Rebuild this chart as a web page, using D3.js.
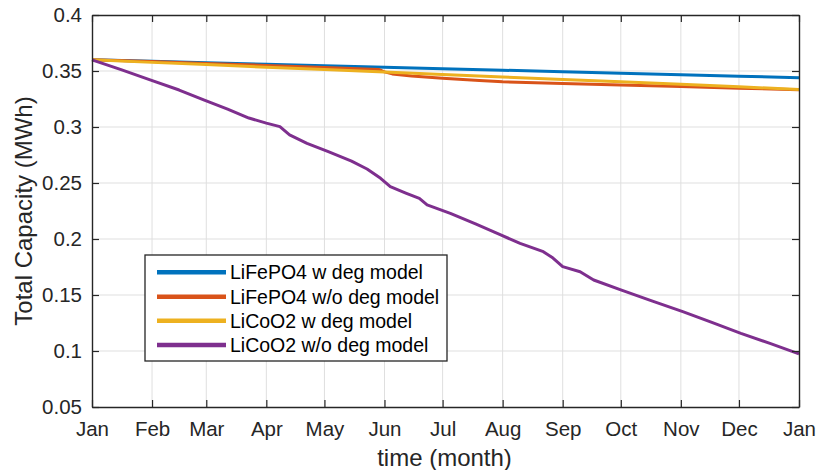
<!DOCTYPE html>
<html>
<head>
<meta charset="utf-8">
<script src="https://cdn.jsdelivr.net/npm/d3@7/dist/d3.min.js"></script>
<style>
  html, body { margin: 0; padding: 0; background: #fff; }
  svg { display: block; font-family: "Liberation Sans", Arial, Helvetica, sans-serif; }
</style>
</head>
<body>
<svg id="chart" width="819" height="470"></svg>
<script>
// Month ticks (day of year at the start of each month)
const monthDays = [0, 31, 59, 90, 120, 151, 181, 212, 243, 273, 304, 334, 365];
const monthLabels = ["Jan", "Feb", "Mar", "Apr", "May", "Jun", "Jul", "Aug", "Sep", "Oct", "Nov", "Dec", "Jan"];
const yTicks = [0.05, 0.1, 0.15, 0.2, 0.25, 0.3, 0.35, 0.4];

// Total capacity (MWh) over the year, as [day, value]
const lifepo4Deg = [
  [0, 0.360], [31, 0.3586], [59, 0.3574], [90, 0.3560], [120, 0.3547], [151, 0.3533],
  [181, 0.3521], [212, 0.3507], [243, 0.3494], [273, 0.3480], [304, 0.3467], [334, 0.3454], [365, 0.3440]
];
const lifepo4NoDeg = [
  [0, 0.360], [31, 0.3584], [59, 0.3568], [90, 0.3550], [120, 0.3532], [148, 0.3514],
  [151, 0.3492], [155, 0.3474], [165, 0.3455], [181, 0.3436], [200, 0.3416], [212, 0.3404],
  [243, 0.3389], [273, 0.3375], [304, 0.3361], [334, 0.3347], [365, 0.3332]
];
const licoo2Deg = [
  [0, 0.360], [31, 0.3577], [59, 0.3557], [90, 0.3534], [120, 0.3513], [151, 0.3490],
  [181, 0.3469], [212, 0.3446], [243, 0.3424], [273, 0.3403], [304, 0.3381], [334, 0.3359], [365, 0.3335]
];
const licoo2NoDeg = [
  [0, 0.360], [15, 0.3512], [30, 0.3420], [45, 0.3330], [58, 0.3240], [70, 0.3160],
  [81, 0.3080], [90, 0.3035], [97, 0.3003], [102, 0.2929], [111, 0.2854], [122, 0.2780],
  [134, 0.2695], [142, 0.2625], [149, 0.2542], [154, 0.2467], [162, 0.2410], [169, 0.2363],
  [173, 0.2304], [185, 0.2229], [198, 0.2135], [211, 0.2036], [221, 0.1961], [233, 0.1887],
  [238, 0.1830], [243, 0.1753], [252, 0.1708], [259, 0.1634], [273, 0.1545], [289, 0.1448],
  [305, 0.1351], [320, 0.1255], [335, 0.1158], [350, 0.1068], [365, 0.0975]
];

const seriesNames = ["LiFePO4 w deg model", "LiFePO4 w/o deg model", "LiCoO2 w deg model", "LiCoO2 w/o deg model"];
const seriesColors = ["#0072BD", "#D95319", "#EDB120", "#7E2F8E"];
const seriesData = [lifepo4Deg, lifepo4NoDeg, licoo2Deg, licoo2NoDeg];

const margin = { left: 92, top: 15, right: 20, bottom: 63 };
const pw = 799 - margin.left, ph = 407 - margin.top;

const svg = d3.select("#chart");
const g = svg.append("g").attr("transform", `translate(${margin.left},${margin.top})`);

const x = d3.scaleLinear().domain([0, 365]).range([0, pw]);
const y = d3.scaleLinear().domain([0.05, 0.4]).range([ph, 0]);

// Grid
const gridColor = "#dfdfdf";
g.append("g").attr("class", "xgrid")
  .selectAll("line").data(monthDays.slice(1, -1)).join("line")
  .attr("x1", d => x(d)).attr("x2", d => x(d)).attr("y1", 0).attr("y2", ph)
  .attr("stroke", gridColor).attr("stroke-width", 1);
g.append("g").attr("class", "ygrid")
  .selectAll("line").data(yTicks.slice(1, -1)).join("line")
  .attr("y1", d => y(d)).attr("y2", d => y(d)).attr("x1", 0).attr("x2", pw)
  .attr("stroke", gridColor).attr("stroke-width", 1);

// Lines
const line = d3.line().x(d => x(d[0])).y(d => y(d[1]));
seriesData.forEach((data, i) => {
  g.append("path").datum(data)
    .attr("fill", "none")
    .attr("stroke", seriesColors[i])
    .attr("stroke-width", 3)
    .attr("stroke-linejoin", "round")
    .attr("d", line);
});

// Axes (ticks pointing inward on all four sides)
const axisColor = "#262626";
const fmtMonth = (d, i) => monthLabels[i];
const xAxis = g.append("g").attr("transform", `translate(0,${ph})`)
  .call(d3.axisBottom(x).tickValues(monthDays).tickFormat(fmtMonth).tickSizeInner(-7).tickSizeOuter(0).tickPadding(14));
const xTop = g.append("g")
  .call(d3.axisTop(x).tickValues(monthDays).tickFormat("").tickSizeInner(-7).tickSizeOuter(0));
const yAxis = g.append("g")
  .call(d3.axisLeft(y).tickValues(yTicks).tickFormat(d => d3.format("")(+d.toFixed(2))).tickSizeInner(-7).tickSizeOuter(0).tickPadding(10));
const yRight = g.append("g").attr("transform", `translate(${pw},0)`)
  .call(d3.axisRight(y).tickValues(yTicks).tickFormat("").tickSizeInner(-7).tickSizeOuter(0));

[xAxis, xTop, yAxis, yRight].forEach(a => {
  a.select(".domain").attr("stroke", axisColor).attr("stroke-width", 1.4);
  a.selectAll(".tick line").attr("stroke", axisColor).attr("stroke-width", 1.2);
  a.selectAll("text").attr("fill", axisColor).attr("font-size", 20.5)
    .attr("font-family", "\"Liberation Sans\", Arial, sans-serif");
});

// Axis labels
svg.append("text")
  .attr("x", margin.left + pw / 2 - 1).attr("y", 466)
  .attr("text-anchor", "middle").attr("font-size", 24).attr("fill", axisColor)
  .text("time (month)");
svg.append("text")
  .attr("transform", `translate(32,${margin.top + ph / 2}) rotate(-90)`)
  .attr("text-anchor", "middle").attr("font-size", 24).attr("fill", axisColor)
  .text("Total Capacity (MWh)");

// Legend
const legend = svg.append("g");
legend.append("rect")
  .attr("x", 145).attr("y", 255).attr("width", 302).attr("height", 106)
  .attr("fill", "#fff").attr("stroke", axisColor).attr("stroke-width", 1.3);
const rowY = [272.3, 296.7, 320.8, 345];
seriesNames.forEach((name, i) => {
  legend.append("line")
    .attr("x1", 157).attr("x2", 226).attr("y1", rowY[i]).attr("y2", rowY[i])
    .attr("stroke", seriesColors[i]).attr("stroke-width", 4.5);
  legend.append("text")
    .attr("x", 230).attr("y", rowY[i]).attr("dy", "0.36em")
    .attr("font-size", 19.5).attr("fill", "#000")
    .text(name);
});
</script>
</body>
</html>
